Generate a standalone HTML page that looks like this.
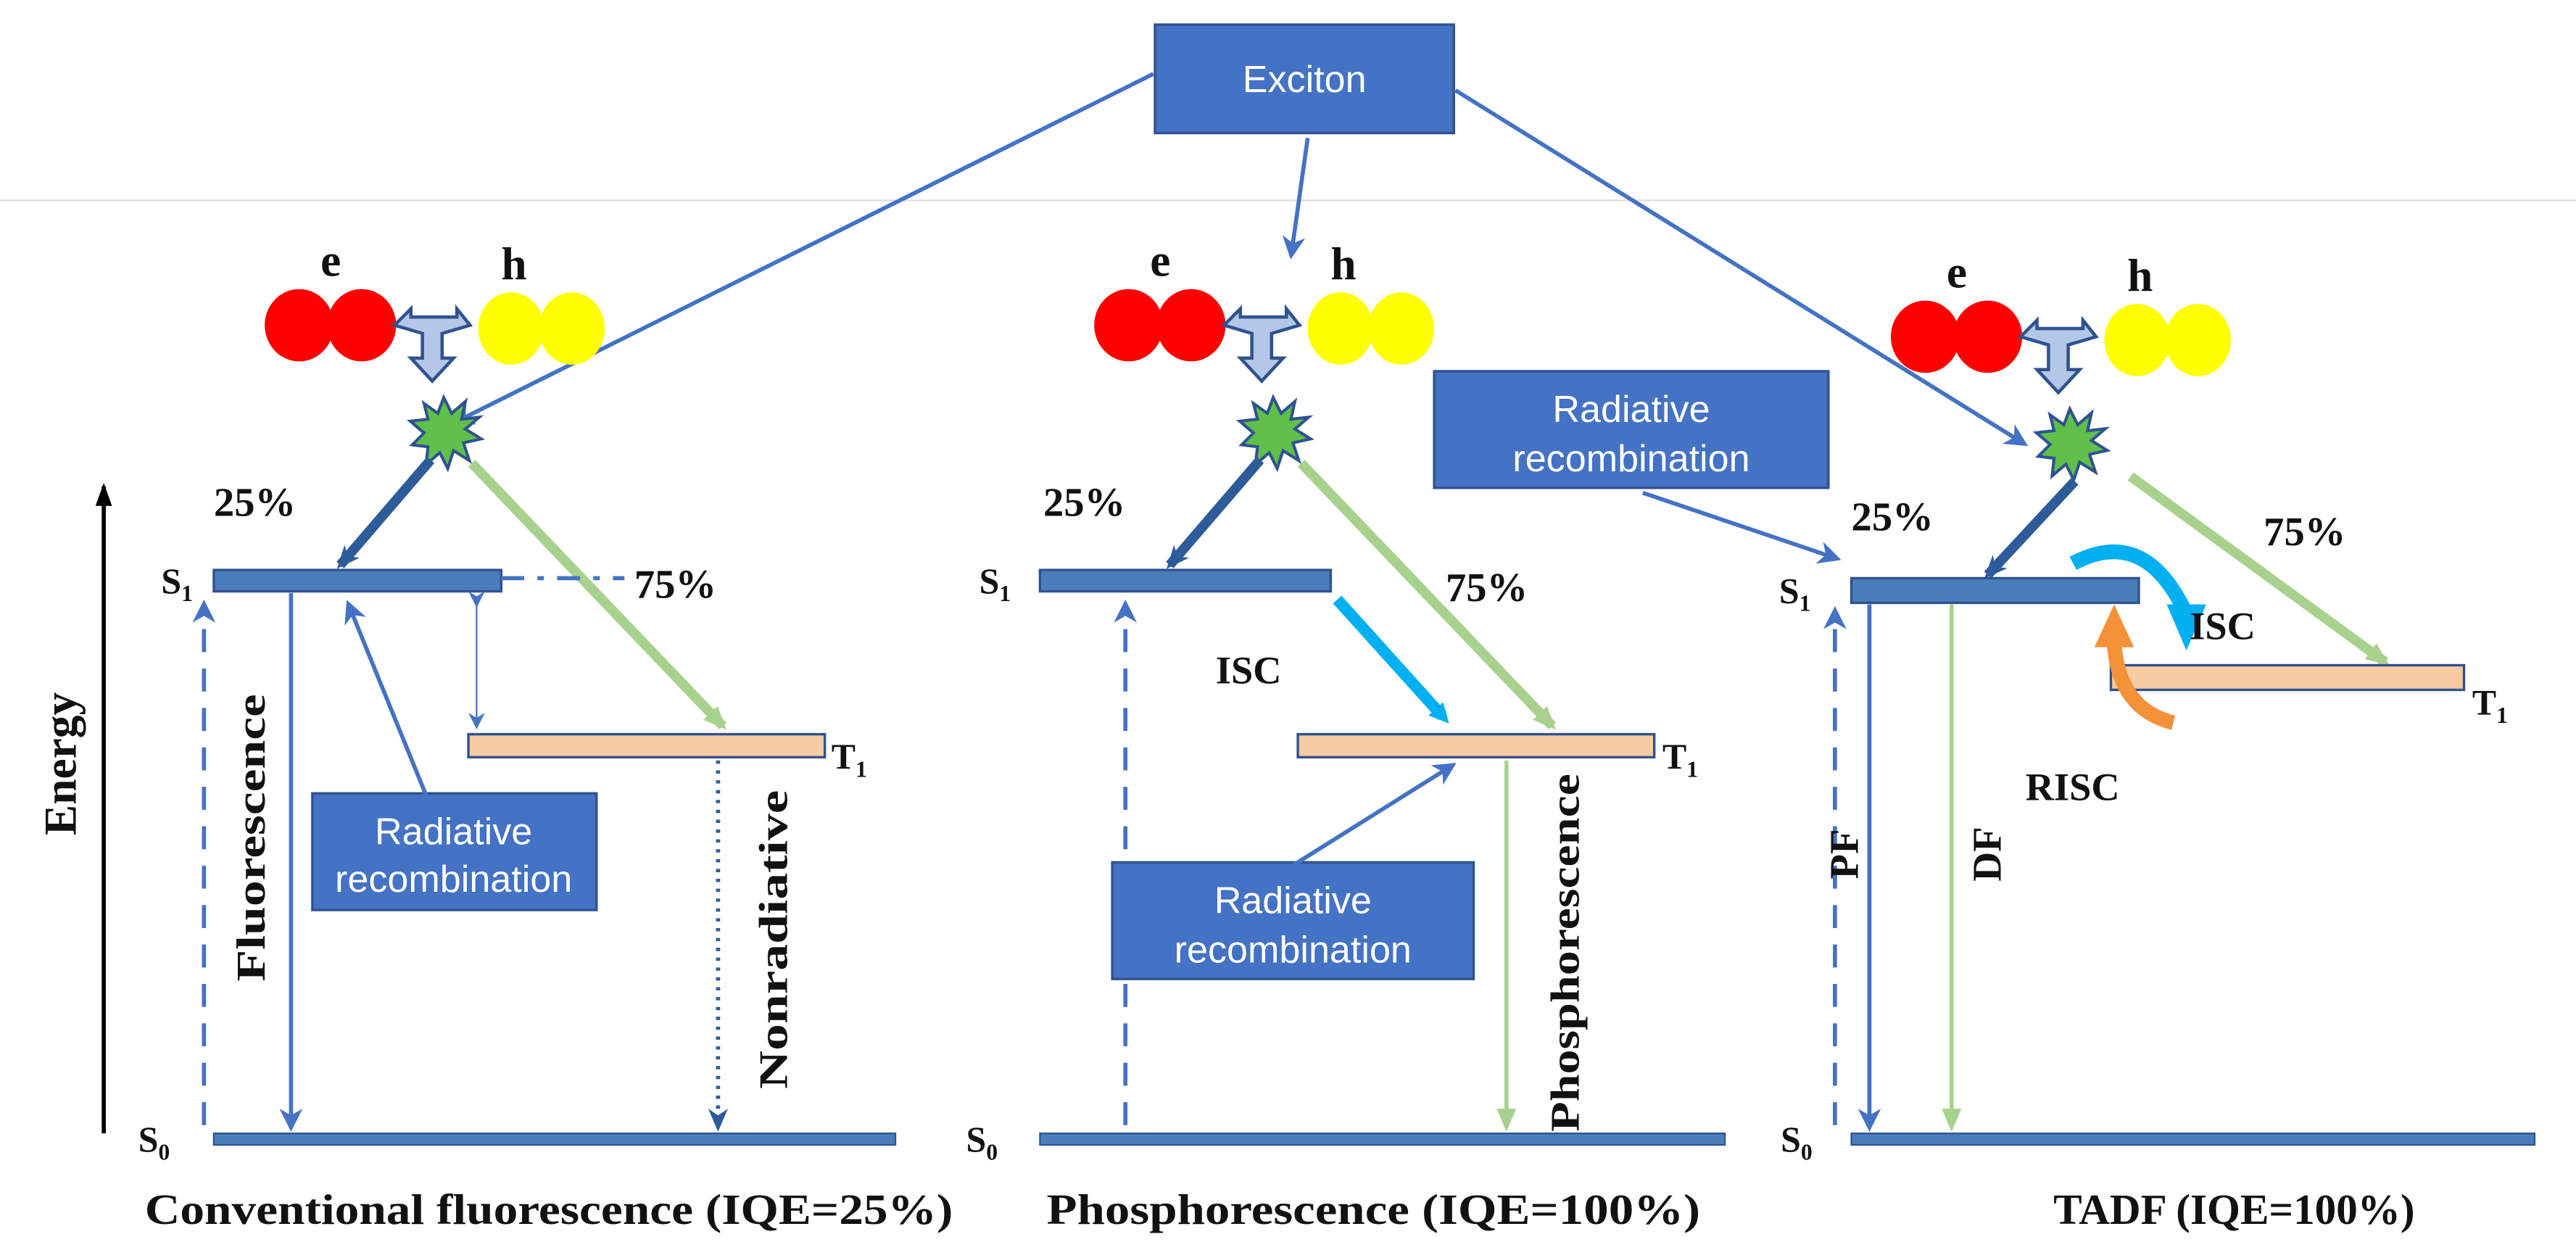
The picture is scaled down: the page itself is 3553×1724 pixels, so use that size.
<!DOCTYPE html>
<html><head><meta charset="utf-8"><style>
html,body{margin:0;padding:0;background:#fff;}
svg{display:block;}
.sf{font-family:"Liberation Serif",serif;font-weight:bold;fill:#111;}
.bx{fill:#4472c4;stroke:#2f528f;stroke-width:1.5;}
.bt{font-family:"Liberation Sans",sans-serif;fill:#fff;font-size:23px;text-anchor:middle;}
</style></head><body>
<svg width="3553" height="1724" viewBox="0 0 1568 761" xmlns="http://www.w3.org/2000/svg">
<defs>
<marker id="ab" markerWidth="10" markerHeight="10" refX="8" refY="5" orient="auto" markerUnits="userSpaceOnUse"><path d="M0,0 L10,5 L0,10 L3,5 Z" fill="#4472c4"/></marker>
<marker id="ab2" markerWidth="14" markerHeight="14" refX="11" refY="7" orient="auto" markerUnits="userSpaceOnUse"><path d="M0,0 L14,7 L0,14 L4,7 Z" fill="#4472c4"/></marker>
<marker id="ag" markerWidth="14" markerHeight="14" refX="11" refY="7" orient="auto" markerUnits="userSpaceOnUse"><path d="M0,1 L14,7 L0,13 Z" fill="#a9d18e"/></marker>
<marker id="ad" markerWidth="14" markerHeight="14" refX="11" refY="7" orient="auto" markerUnits="userSpaceOnUse"><path d="M0,1 L14,7 L0,13 L4,7 Z" fill="#2e5c9a"/></marker>
<marker id="ac" markerWidth="12" markerHeight="12" refX="6" refY="6" orient="auto" markerUnits="userSpaceOnUse"><path d="M0,0 L12,6 L0,12 Z" fill="#00b0f0"/></marker>
<marker id="ak" markerWidth="14" markerHeight="14" refX="12" refY="7" orient="auto" markerUnits="userSpaceOnUse"><path d="M0,2 L14,7 L0,12 Z" fill="#000"/></marker>
<g id="pair">
<ellipse cx="0" cy="0" rx="21" ry="22" fill="#ff0000"/><ellipse cx="38" cy="0" rx="21" ry="22" fill="#ff0000"/>
<ellipse cx="129" cy="2" rx="20" ry="22" fill="#ffff00"/><ellipse cx="166" cy="2" rx="20" ry="22" fill="#ffff00"/>
<path d="M58,0 L68,-10 L68,-5 L96,-5 L96,-10 L104,0 L87,5 L87,20 L94,20 L81,34 L68,20 L75,20 L75,5 Z" fill="#b4c7e7" stroke="#2f528f" stroke-width="2"/>
<g transform="translate(88,68) scale(1.2) translate(-88,-68)">
<polygon points="88,48 92,56 99,50 97,59 106,58 99,64 107,69 98,71 101,80 93,75 90,84 86,76 79,82 80,73 72,72 78,66 71,60 80,59 78,51 85,56" fill="#5fbf4a" stroke="#2f528f" stroke-width="1.5"/>
</g>
<text x="13" y="-30" class="sf" font-size="28">e</text>
<text x="123" y="-28" class="sf" font-size="28">h</text>
</g>
</defs>
<line x1="0" y1="122" x2="1568" y2="122" stroke="#ddd" stroke-width="1"/>
<rect class="bx" x="703" y="15" width="182" height="66"/>
<text class="bt" x="794" y="56" font-size="24">Exciton</text>
<line x1="702" y1="45" x2="277" y2="257" stroke="#4472c4" stroke-width="2.5" marker-end="url(#ab2)"/>
<line x1="796" y1="84" x2="786" y2="155" stroke="#4472c4" stroke-width="2.5" marker-end="url(#ab2)"/>
<line x1="886" y1="55" x2="1232" y2="270" stroke="#4472c4" stroke-width="2.5" marker-end="url(#ab2)"/>
<line x1="63" y1="690" x2="63" y2="296" stroke="#000" stroke-width="2.5" marker-end="url(#ak)"/>
<text class="sf" font-size="28" text-anchor="middle" transform="translate(46,465) rotate(-90)">Energy</text>

<!-- Panel 1 -->
<use href="#pair" x="182" y="198"/>
<text class="sf" font-size="25" x="130" y="314">25%</text>
<line x1="262" y1="280" x2="207" y2="344" stroke="#2e5c9a" stroke-width="6" marker-end="url(#ad)"/>
<line x1="287" y1="282" x2="440" y2="442" stroke="#a9d18e" stroke-width="6" marker-end="url(#ag)"/>
<rect x="130" y="347" width="175" height="13" fill="#4a7ebb" stroke="#2f528f" stroke-width="1.5"/>
<text class="sf" font-size="22" x="98" y="361">S<tspan font-size="14" dy="5">1</tspan></text>
<line x1="305" y1="352" x2="380" y2="352" stroke="#4472c4" stroke-width="2.5" stroke-dasharray="14,8,4,8"/>
<text class="sf" font-size="25" x="386" y="364">75%</text>
<rect x="285" y="447" width="217" height="14" fill="#f8cba0" stroke="#2f528f" stroke-width="1.5"/>
<text class="sf" font-size="22" x="506" y="468">T<tspan font-size="14" dy="5">1</tspan></text>
<line x1="290" y1="368" x2="290" y2="442" stroke="#4472c4" stroke-width="1" marker-end="url(#ab)" marker-start="url(#ab)"/>
<rect class="bx" x="190" y="483" width="173" height="71"/>
<text class="bt" x="276" y="514">Radiative</text>
<text class="bt" x="276" y="543">recombination</text>
<line x1="260" y1="486" x2="212" y2="368" stroke="#4472c4" stroke-width="2.5" marker-end="url(#ab2)"/>
<line x1="177" y1="361" x2="177" y2="686" stroke="#4472c4" stroke-width="2.5" marker-end="url(#ab2)"/>
<text class="sf" font-size="25" text-anchor="middle" textLength="175" lengthAdjust="spacingAndGlyphs" transform="translate(161,510) rotate(-90)">Fluorescence</text>
<line x1="124" y1="685" x2="124" y2="368" stroke="#4472c4" stroke-width="2.5" stroke-dasharray="14,10" marker-end="url(#ab2)"/>
<line x1="437" y1="463" x2="437" y2="686" stroke="#2e5c9a" stroke-width="2.5" stroke-dasharray="2,4" marker-end="url(#ad)"/>
<text class="sf" font-size="25" text-anchor="middle" textLength="182" lengthAdjust="spacingAndGlyphs" transform="translate(479,572) rotate(-90)">Nonradiative</text>
<rect x="130" y="690" width="415" height="7" fill="#4a7ebb" stroke="#2f528f" stroke-width="1"/>
<text class="sf" font-size="22" x="84" y="701">S<tspan font-size="14" dy="5">0</tspan></text>
<text class="sf" font-size="26" x="88" y="745" textLength="492" lengthAdjust="spacingAndGlyphs">Conventional fluorescence (IQE=25%)</text>

<!-- Panel 2 -->
<use href="#pair" x="687" y="198"/>
<text class="sf" font-size="25" x="635" y="314">25%</text>
<line x1="767" y1="280" x2="712" y2="344" stroke="#2e5c9a" stroke-width="6" marker-end="url(#ad)"/>
<line x1="792" y1="282" x2="945" y2="442" stroke="#a9d18e" stroke-width="6" marker-end="url(#ag)"/>
<rect x="633" y="347" width="177" height="13" fill="#4a7ebb" stroke="#2f528f" stroke-width="1.5"/>
<text class="sf" font-size="22" x="596" y="361">S<tspan font-size="14" dy="5">1</tspan></text>
<text class="sf" font-size="25" x="880" y="366">75%</text>
<line x1="814" y1="365" x2="878" y2="436" stroke="#00b0f0" stroke-width="7" marker-end="url(#ac)"/>
<text class="sf" font-size="24" x="740" y="416">ISC</text>
<rect x="790" y="447" width="217" height="14" fill="#f8cba0" stroke="#2f528f" stroke-width="1.5"/>
<text class="sf" font-size="22" x="1012" y="468">T<tspan font-size="14" dy="5">1</tspan></text>
<line x1="685" y1="685" x2="685" y2="368" stroke="#4472c4" stroke-width="2.5" stroke-dasharray="14,10" marker-end="url(#ab2)"/>
<rect class="bx" x="677" y="525" width="220" height="71"/>
<text class="bt" x="787" y="556">Radiative</text>
<text class="bt" x="787" y="586">recombination</text>
<line x1="782" y1="530" x2="884" y2="466" stroke="#4472c4" stroke-width="2.5" marker-end="url(#ab2)"/>
<line x1="917" y1="463" x2="917" y2="686" stroke="#a9d18e" stroke-width="2.5" marker-end="url(#ag)"/>
<text class="sf" font-size="25" text-anchor="middle" textLength="218" lengthAdjust="spacingAndGlyphs" transform="translate(961,580) rotate(-90)">Phosphorescence</text>
<rect x="633" y="690" width="417" height="7" fill="#4a7ebb" stroke="#2f528f" stroke-width="1"/>
<text class="sf" font-size="22" x="588" y="701">S<tspan font-size="14" dy="5">0</tspan></text>
<text class="sf" font-size="26" x="637" y="745" textLength="398" lengthAdjust="spacingAndGlyphs">Phosphorescence (IQE=100%)</text>

<!-- Panel 3 -->
<use href="#pair" x="1172" y="205"/>
<rect class="bx" x="873" y="226" width="240" height="71"/>
<text class="bt" x="993" y="257">Radiative</text>
<text class="bt" x="993" y="287">recombination</text>
<line x1="1000" y1="300" x2="1118" y2="340" stroke="#4472c4" stroke-width="2.5" marker-end="url(#ab2)"/>
<text class="sf" font-size="25" x="1127" y="323">25%</text>
<text class="sf" font-size="25" x="1378" y="332">75%</text>
<line x1="1263" y1="293" x2="1210" y2="350" stroke="#2e5c9a" stroke-width="6" marker-end="url(#ad)"/>
<line x1="1297" y1="290" x2="1452" y2="403" stroke="#a9d18e" stroke-width="6" marker-end="url(#ag)"/>
<rect x="1127" y="352" width="175" height="15" fill="#4a7ebb" stroke="#2f528f" stroke-width="1.5"/>
<text class="sf" font-size="22" x="1083" y="367">S<tspan font-size="14" dy="5">1</tspan></text>
<rect x="1285" y="405" width="215" height="15" fill="#f8cba0" stroke="#2f528f" stroke-width="1.5"/>
<text class="sf" font-size="22" x="1505" y="435">T<tspan font-size="14" dy="5">1</tspan></text>
<path d="M1262,343 Q1305,320 1330,372" fill="none" stroke="#00b0f0" stroke-width="9"/>
<path d="M1319,368 L1343,368 L1331,396 Z" fill="#00b0f0"/>
<text class="sf" font-size="24" x="1333" y="389">ISC</text>
<path d="M1323,440 Q1290,432 1287,392" fill="none" stroke="#f4923a" stroke-width="9"/>
<path d="M1275,394 L1299,394 L1287,368 Z" fill="#f4923a"/>
<text class="sf" font-size="24" x="1233" y="487">RISC</text>
<line x1="1117" y1="685" x2="1117" y2="372" stroke="#4472c4" stroke-width="2.5" stroke-dasharray="14,10" marker-end="url(#ab2)"/>
<line x1="1138" y1="368" x2="1138" y2="686" stroke="#4472c4" stroke-width="2.5" marker-end="url(#ab2)"/>
<text class="sf" font-size="25" text-anchor="middle" transform="translate(1131,520) rotate(-90)">PF</text>
<line x1="1188" y1="368" x2="1188" y2="686" stroke="#a9d18e" stroke-width="2.5" marker-end="url(#ag)"/>
<text class="sf" font-size="25" text-anchor="middle" transform="translate(1218,520) rotate(-90)">DF</text>
<rect x="1127" y="690" width="416" height="7" fill="#4a7ebb" stroke="#2f528f" stroke-width="1"/>
<text class="sf" font-size="22" x="1084" y="701">S<tspan font-size="14" dy="5">0</tspan></text>
<text class="sf" font-size="26" x="1250" y="745" textLength="220" lengthAdjust="spacingAndGlyphs">TADF (IQE=100%)</text>
</svg>
</body></html>
